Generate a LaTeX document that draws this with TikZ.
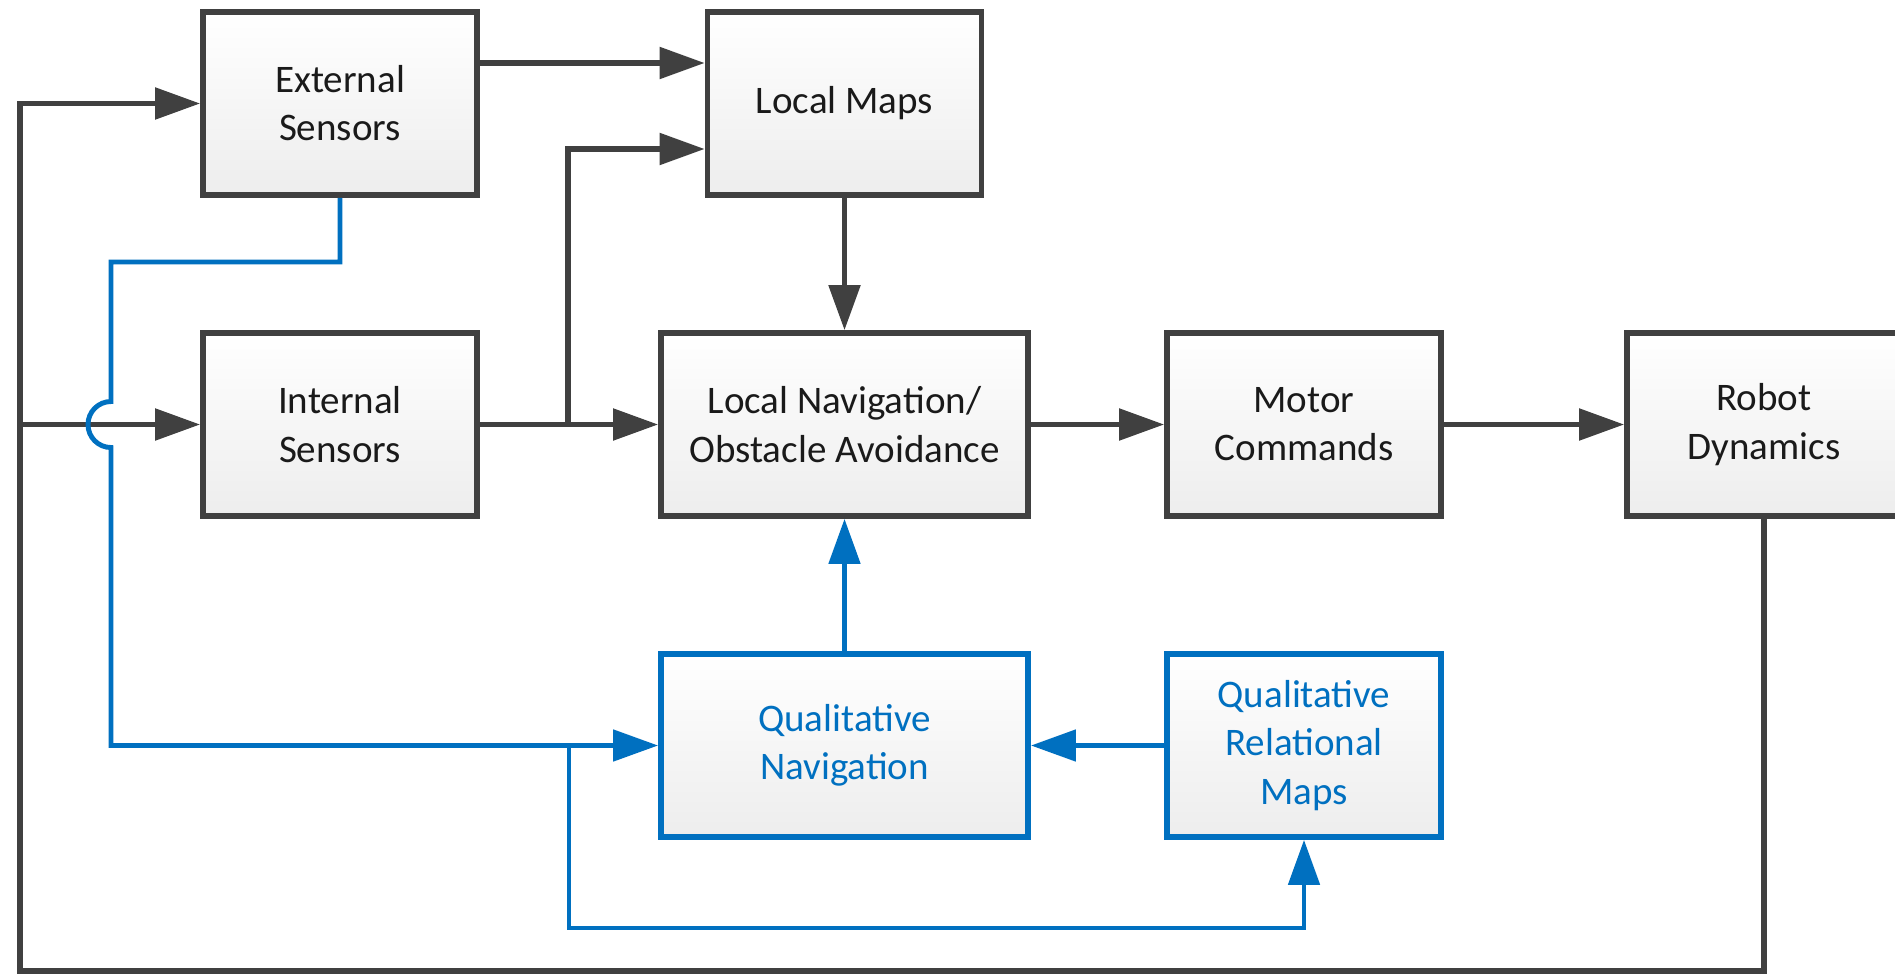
\documentclass[tikz,border=0pt]{standalone}
\usepackage{fontspec}
\setmainfont{Carlito}
\usetikzlibrary{arrows.meta,calc}
\definecolor{linegray}{HTML}{404040}
\definecolor{qblue}{HTML}{0070C0}
\definecolor{boxbot}{HTML}{EDEDED}
\definecolor{boxtext}{HTML}{1A1A1A}
\tikzset{
  box/.style={draw=linegray, line width=1.6pt, top color=white, bottom color=boxbot,
    minimum width=2.74cm, minimum height=1.83cm, align=center, text=boxtext,
    font=\fontsize{11.1pt}{13.7pt}\selectfont, inner sep=0pt},
  widebox/.style={box, minimum width=3.67cm},
  qbox/.style={draw=qblue, text=qblue},
  tipstyle/.style={-{Triangle[length=0.45cm,width=0.31cm]}},
  wire/.style={draw=linegray, line width=1.5pt},
  link/.style={wire, tipstyle},
  qwire/.style={draw=qblue, line width=1.4pt},
  qlink/.style={qwire, tipstyle},
}
\begin{document}
\begin{tikzpicture}[x=0.01cm,y=-0.01cm]
\useasboundingbox (0,0) rectangle (1895,973);
\clip (0,0) rectangle (1895,973);
\fill[white] (0,0) rectangle (1895,973);

% blocks
\node[box] (es) at (340,103.5) {External\\Sensors};
\node[box] (lm) at (844.5,103.5) {Local Maps};
\node[box] (is) at (340,424.5) {Internal\\Sensors};
\node[widebox] (ln) at (844.5,424.5) {Local Navigation/\\Obstacle Avoidance};
\node[box] (mc) at (1304,424.5) {Motor\\Commands};
\node[box] (rd) at (1764,424.5) {Robot\\Dynamics};
\node[widebox,qbox] (qn) at (844.5,745.5) {Qualitative\\Navigation};
\node[box,qbox] (qrm) at (1304,745.5) {Qualitative\\Relational\\Maps};

% helper coordinates
\coordinate (ytop) at (0,63);
\coordinate (ymid) at (0,149);
\coordinate (jl) at (568,424.5);
\coordinate (fbl) at (20,971);
\coordinate (qa) at (111,262);
\coordinate (qj) at (569,745.5);
\coordinate (qlow) at (0,928);

% sensing and control chain
\draw[link] (es.east |- ytop) -- (lm.west |- ytop);
\draw[link] (is.east) -- (ln.west);
\draw[link] (jl) |- (lm.west |- ymid);
\draw[link] (lm.south) -- (ln.north);
\draw[link] (ln.east) -- (mc.west);
\draw[link] (mc.east) -- (rd.west);

% feedback loop from the robot
\draw[link] (rd.south) |- (fbl) |- (es.west);
\draw[link] (fbl |- is.west) -- (is.west);

% qualitative navigation layer
\draw[qlink] (es.south) |- (qa) -- (111,401.5)
  arc[start angle=90, end angle=270, radius=0.23cm] -- (111,745.5) -- (qn.west);
\draw[qlink] (qj) |- (qrm.south |- qlow) -- (qrm.south);
\draw[qlink] (qrm.west) -- (qn.east);
\draw[qlink] (qn.north) -- (ln.south);
\end{tikzpicture}
\end{document}
